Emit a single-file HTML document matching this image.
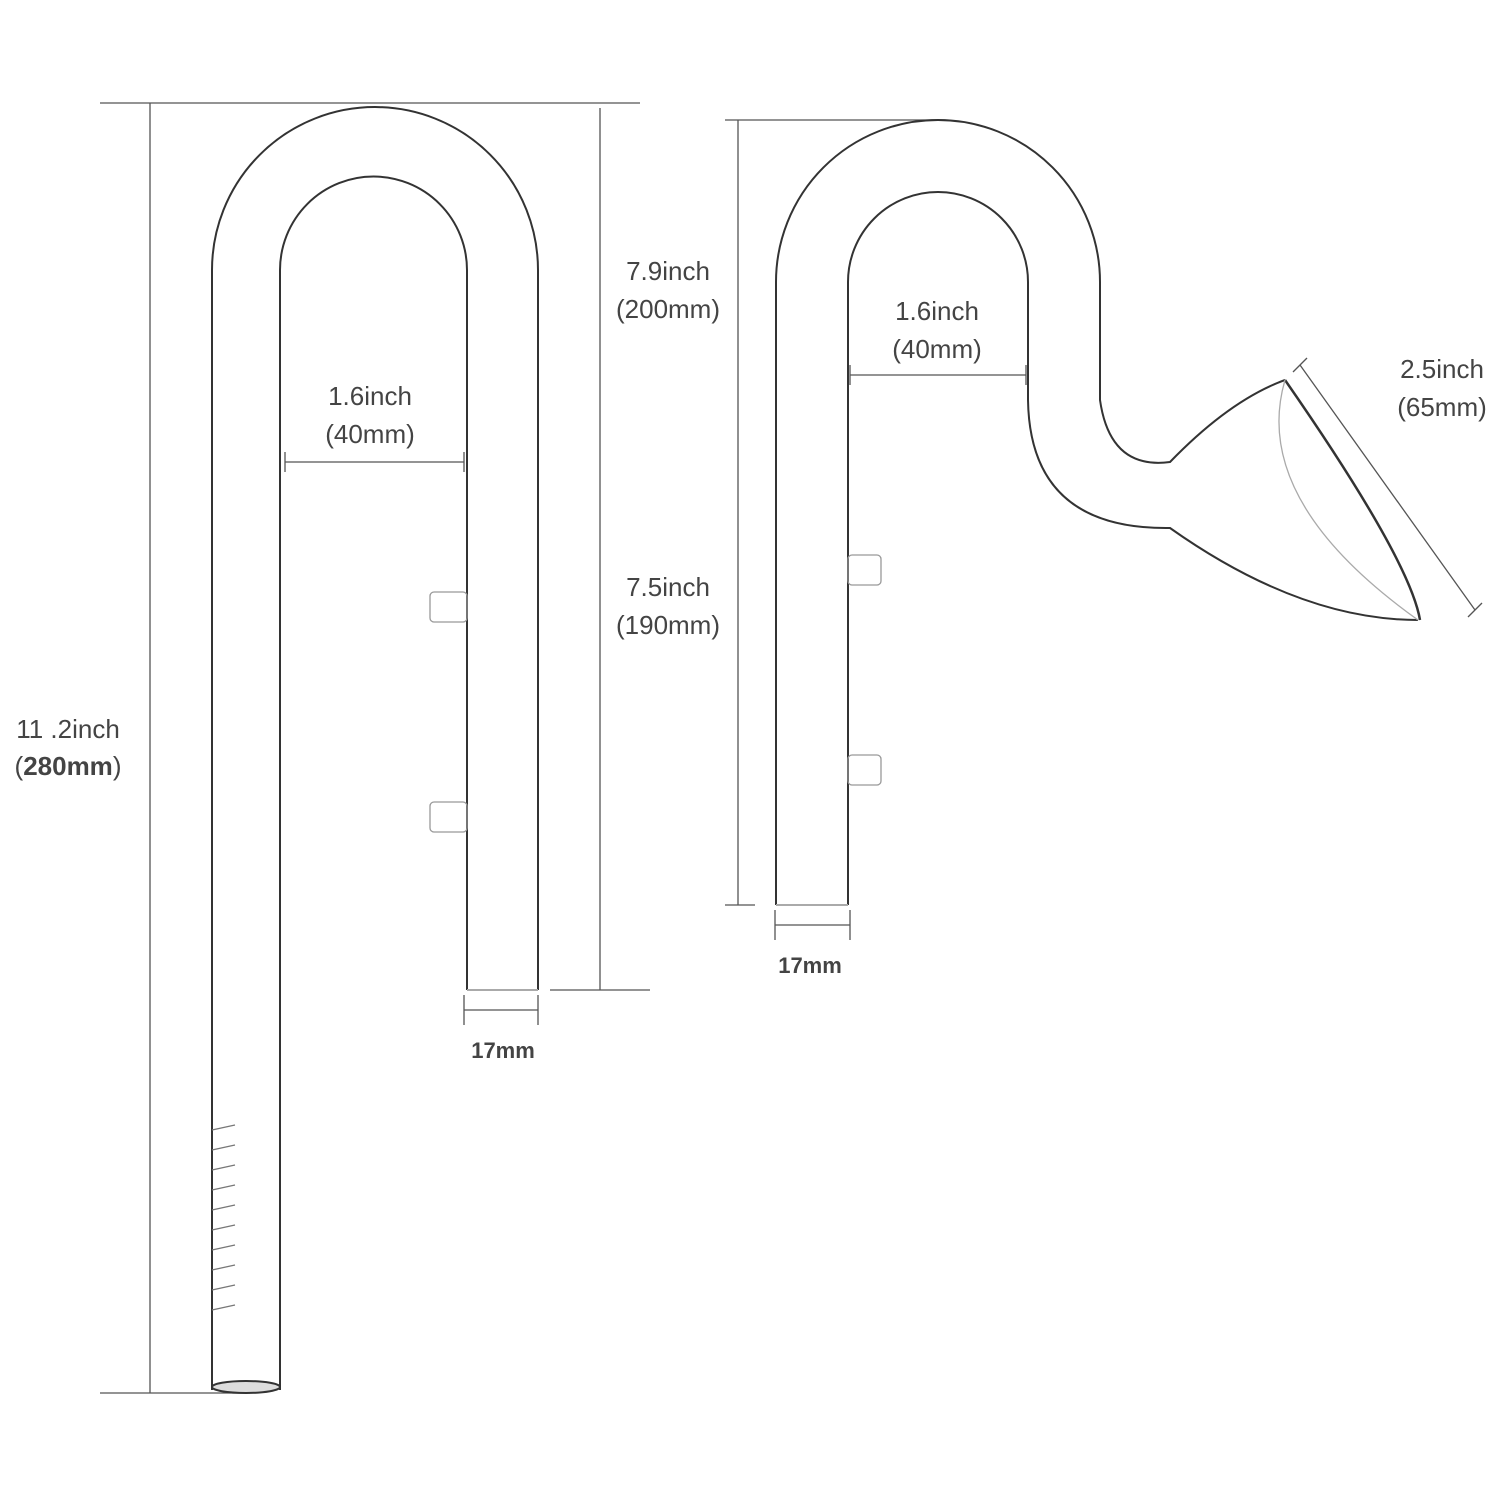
<!DOCTYPE html>
<html><head><meta charset="utf-8"><style>
html,body{margin:0;padding:0;background:#fff;}
svg{display:block;}
text{font-family:"Liberation Sans",sans-serif;fill:#444;}
</style></head><body>
<svg width="1500" height="1500" viewBox="0 0 1500 1500" xmlns="http://www.w3.org/2000/svg">
<g stroke="#555" stroke-width="1.3" fill="none">
<!-- left dimension lines -->
<line x1="100" y1="103" x2="640" y2="103"/>
<line x1="150" y1="103" x2="150" y2="1393"/>
<line x1="100" y1="1393" x2="250" y2="1393"/>
<line x1="600" y1="108" x2="600" y2="990"/>
<line x1="550" y1="990" x2="650" y2="990"/>
<line x1="285" y1="462" x2="464" y2="462"/>
<line x1="285" y1="452" x2="285" y2="472"/>
<line x1="464" y1="452" x2="464" y2="472"/>
<line x1="464" y1="1010" x2="538" y2="1010"/>
<line x1="464" y1="995" x2="464" y2="1025"/>
<line x1="538" y1="995" x2="538" y2="1025"/>
<!-- right dimension lines -->
<line x1="725" y1="120" x2="940" y2="120"/>
<line x1="738" y1="120" x2="738" y2="905"/>
<line x1="725" y1="905" x2="755" y2="905"/>
<line x1="850" y1="375" x2="1026" y2="375"/>
<line x1="850" y1="365" x2="850" y2="385"/>
<line x1="1026" y1="365" x2="1026" y2="385"/>
<line x1="775" y1="925" x2="850" y2="925"/>
<line x1="775" y1="910" x2="775" y2="940"/>
<line x1="850" y1="910" x2="850" y2="940"/>
<line x1="1300" y1="365" x2="1475" y2="610"/>
<line x1="1293" y1="372" x2="1307" y2="358"/>
<line x1="1468" y1="617" x2="1482" y2="603"/>
</g>
<!-- left tube -->
<g stroke="#333" stroke-width="2" fill="none">
<path d="M212 1390 L212 270 A163 163 0 0 1 538 270 L538 990"/>
<path d="M280 1390 L280 270 A93.5 93.5 0 0 1 467 270 L467 990"/>
<ellipse cx="246" cy="1387" rx="34" ry="6" fill="#ddd"/>
<line x1="467" y1="990" x2="538" y2="990" stroke="#aaa"/>
<rect x="430" y="592" width="37" height="30" rx="4" stroke="#999" stroke-width="1.3"/>
<rect x="430" y="802" width="37" height="30" rx="4" stroke="#999" stroke-width="1.3"/>
</g>
<g stroke="#777" stroke-width="1.3">
<line x1="212" y1="1130" x2="235" y2="1125"/><line x1="212" y1="1150" x2="235" y2="1145"/>
<line x1="212" y1="1170" x2="235" y2="1165"/><line x1="212" y1="1190" x2="235" y2="1185"/>
<line x1="212" y1="1210" x2="235" y2="1205"/><line x1="212" y1="1230" x2="235" y2="1225"/>
<line x1="212" y1="1250" x2="235" y2="1245"/><line x1="212" y1="1270" x2="235" y2="1265"/>
<line x1="212" y1="1290" x2="235" y2="1285"/><line x1="212" y1="1310" x2="235" y2="1305"/>
</g>
<!-- right tube -->
<g stroke="#333" stroke-width="2" fill="none">
<path d="M776 905 L776 282 A162 162 0 0 1 1100 282 L1100 400 Q1110 470 1170 462 Q1230 400 1285 380"/>
<path d="M848 905 L848 282 A90 90 0 0 1 1028 282 L1028 400 Q1030 530 1170 528 Q1300 620 1418 620"/>
<path d="M1285 380 Q1410 560 1420 620" stroke-width="2.5"/>
<path d="M1285 380 Q1250 500 1418 620" stroke="#aaa" stroke-width="1.3"/>
<line x1="776" y1="905" x2="848" y2="905" stroke="#aaa"/>
<rect x="848" y="555" width="33" height="30" rx="4" stroke="#999" stroke-width="1.3"/>
<rect x="848" y="755" width="33" height="30" rx="4" stroke="#999" stroke-width="1.3"/>
</g>
<!-- labels -->
<g font-size="26" text-anchor="middle">
<text x="370" y="405">1.6inch</text><text x="370" y="443">(40mm)</text>
<text x="668" y="280">7.9inch</text><text x="668" y="318">(200mm)</text>
<text x="668" y="596">7.5inch</text><text x="668" y="634">(190mm)</text>
<text x="68" y="738">11 .2inch</text><text x="68" y="775">(<tspan font-weight="bold">280mm</tspan>)</text>
<text x="937" y="320">1.6inch</text><text x="937" y="358">(40mm)</text>
<text x="1442" y="378">2.5inch</text><text x="1442" y="416">(65mm)</text>
<text x="503" y="1058" font-size="22" font-weight="bold" fill="#222">17mm</text>
<text x="810" y="973" font-size="22" font-weight="bold" fill="#222">17mm</text>
</g>
</svg>
</body></html>
